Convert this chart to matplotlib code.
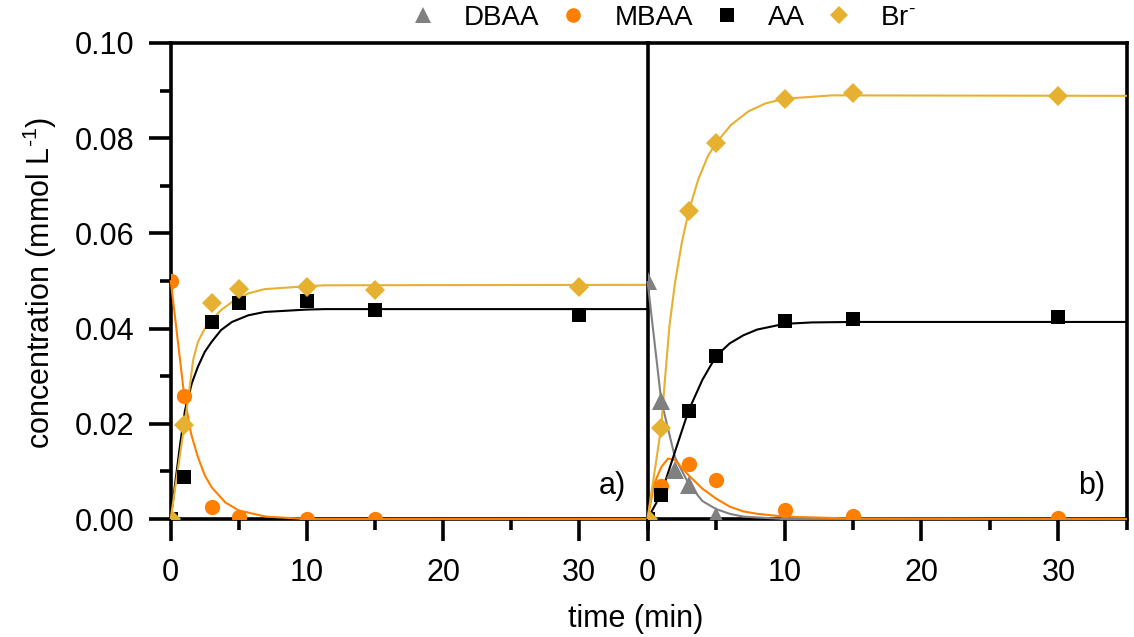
import matplotlib.pyplot as plt
from matplotlib.ticker import MultipleLocator, FixedLocator
from matplotlib.lines import Line2D

plt.rcParams['font.family'] = ['Liberation Sans', 'DejaVu Sans']
plt.rcParams['mathtext.default'] = 'regular'

GRAY = '#808080'
ORANGE = '#FF7F00'
GOLD = '#E6B030'
BLACK = '#000000'

# ---- a) MBAA experiment: measured points
t_a = [0, 1, 3, 5, 10, 15, 30]
mbaa_a_t = [0, 1, 3, 5, 10, 15]
mbaa_a = [0.0501, 0.0259, 0.0025, 0.0004, 0.0000, 0.0000]
aa_a = [0.0, 0.0089, 0.0413, 0.0453, 0.0459, 0.0439, 0.0428]
br_a = [0.0, 0.0198, 0.0454, 0.0483, 0.0488, 0.0481, 0.0487]

# a) fitted curves
fit_mbaa_a_t = [0, 0.5, 1, 1.5, 2, 2.5, 3, 4, 5, 7, 10, 35]
fit_mbaa_a = [0.0502, 0.038, 0.0258, 0.0179, 0.0130, 0.0092, 0.0067, 0.0035, 0.0018, 0.0005, 0.0, 0.0]
fit_aa_a_t = [0, 0.7, 1.05, 1.55, 2, 2.5, 3, 3.7, 4.5, 5.7, 6.9, 10, 11.3, 35]
fit_aa_a = [0.0, 0.0158, 0.0228, 0.0285, 0.0320, 0.0351, 0.0372, 0.0397, 0.0414, 0.0428, 0.0435, 0.0440, 0.0441, 0.0441]
fit_br_a_t = [0, 1, 1.3, 1.65, 2, 2.5, 3, 3.7, 4.5, 5.7, 6.9, 10, 11.3, 35]
fit_br_a = [0.0, 0.0197, 0.0256, 0.0334, 0.0372, 0.0400, 0.0418, 0.0439, 0.0456, 0.0474, 0.0483, 0.0489, 0.0491, 0.0492]

# ---- b) DBAA experiment: measured points
dbaa_b_t = [0, 1, 2, 3, 5, 10]
dbaa_b = [0.0500, 0.0248, 0.0103, 0.0072, 0.0006, 0.0000]
mbaa_b_t = [0, 1, 3, 5, 10, 15, 30]
mbaa_b = [0.0, 0.0070, 0.0116, 0.0082, 0.0018, 0.0007, 0.0002]
t_b = [0, 1, 3, 5, 10, 15, 30]
aa_b = [0.0, 0.0050, 0.0226, 0.0342, 0.0415, 0.0421, 0.0424]
br_b = [0.0, 0.0192, 0.0647, 0.0790, 0.0883, 0.0894, 0.0889]

# b) fitted curves
fit_dbaa_b_t = [0, 1, 2, 3, 4, 5, 6, 7, 10, 35]
fit_dbaa_b = [0.0500, 0.0249, 0.0130, 0.0074, 0.0038, 0.0021, 0.0011, 0.0005, 0.0, 0.0]
fit_mbaa_b_t = [0, 0.5, 1, 1.5, 2, 3, 4, 5, 6, 7, 8, 10, 15, 35]
fit_mbaa_b = [0.0, 0.0075, 0.0109, 0.0127, 0.0124, 0.0092, 0.0064, 0.0043, 0.0026, 0.0016, 0.0011, 0.0005, 0.0001, 0.0]
fit_aa_b_t = [0, 1, 2, 3, 4, 5, 6, 7, 8, 10, 12, 15, 35]
fit_aa_b = [0.0, 0.0053, 0.0141, 0.0228, 0.0292, 0.0342, 0.0369, 0.0386, 0.0398, 0.0410, 0.0413, 0.0414, 0.0414]
fit_br_b_t = [0, 1, 1.25, 1.6, 2, 2.5, 3, 3.7, 4.4, 5, 6.1, 7.35, 8.6, 10, 13.5, 35]
fit_br_b = [0.0, 0.0193, 0.0285, 0.0405, 0.0495, 0.0580, 0.0646, 0.0713, 0.0762, 0.0790, 0.0828, 0.0856, 0.0873, 0.0883, 0.0890, 0.0889]

fig = plt.figure(figsize=(11.34, 6.37), dpi=100)
ax1 = fig.add_axes([0.1505, 0.1852, 0.4205, 0.7473])
ax2 = fig.add_axes([0.5710, 0.1852, 0.4228, 0.7473])


def curve(ax, x, y, c):
    ax.plot(x, y, '-', color=c, lw=1.5, zorder=3, clip_on=False,
            solid_capstyle='butt')


def points(ax, x, y, c, m, ms):
    ax.plot(x, y, ls='none', marker=m, ms=ms, color=c, mew=0, zorder=4)


# panel a
curve(ax1, fit_mbaa_a_t, fit_mbaa_a, ORANGE)
curve(ax1, fit_aa_a_t, fit_aa_a, BLACK)
curve(ax1, fit_br_a_t, fit_br_a, GOLD)
points(ax1, mbaa_a_t, mbaa_a, ORANGE, 'o', 11)
points(ax1, t_a, aa_a, BLACK, 's', 10)
points(ax1, t_a, br_a, GOLD, 'D', 10)

# panel b
curve(ax2, fit_dbaa_b_t, fit_dbaa_b, GRAY)
curve(ax2, fit_mbaa_b_t, fit_mbaa_b, ORANGE)
curve(ax2, fit_aa_b_t, fit_aa_b, BLACK)
curve(ax2, fit_br_b_t, fit_br_b, GOLD)
points(ax2, dbaa_b_t, dbaa_b, GRAY, '^', 12.5)
points(ax2, mbaa_b_t, mbaa_b, ORANGE, 'o', 11)
points(ax2, t_b, aa_b, BLACK, 's', 10)
points(ax2, t_b, br_b, GOLD, 'D', 10)

for ax in (ax1, ax2):
    ax.set_xlim(0, 35)
    ax.set_ylim(0, 0.10)
    ax.xaxis.set_major_locator(FixedLocator([0, 10, 20, 30]))
    ax.xaxis.set_minor_locator(FixedLocator([5, 15, 25, 35]))
    ax.yaxis.set_major_locator(MultipleLocator(0.02))
    ax.yaxis.set_minor_locator(MultipleLocator(0.01))
    for s in ax.spines.values():
        s.set_linewidth(2.6)
    ax.tick_params(which='major', direction='out', length=16, width=2.6,
                   labelsize=22, pad=10)
    ax.tick_params(which='minor', direction='out', length=8, width=2.6)
    ax.tick_params(axis='x', which='major', pad=12)

ax1.yaxis.set_major_formatter(plt.FormatStrFormatter('%.2f'))
ax1.spines['right'].set_visible(False)
ax2.tick_params(axis='y', which='both', left=False, labelleft=False)

ax1.text(0.955, 0.07, 'a)', transform=ax1.transAxes, ha='right', va='center', fontsize=22)
ax2.text(0.955, 0.07, 'b)', transform=ax2.transAxes, ha='right', va='center', fontsize=22)

fig.text(636 / 1134, 1 - 619 / 637, 'time (min)', ha='center', va='center', fontsize=22)
fig.text(40 / 1134, 1 - 283 / 637, 'concentration (mmol L$^{\u20101}$)',
         rotation=90, ha='center', va='center', fontsize=22)

handles = [
    Line2D([], [], ls='none', marker='^', ms=11.5, color=GRAY, mew=0),
    Line2D([], [], ls='none', marker='o', ms=10.5, color=ORANGE, mew=0),
    Line2D([], [], ls='none', marker='s', ms=9.5, color=BLACK, mew=0),
    Line2D([], [], ls='none', marker='D', ms=9.5, color=GOLD, mew=0),
]
fig.legend(handles, ['DBAA', 'MBAA', 'AA', 'Br$^{\u2010}$'], loc='center',
           bbox_to_anchor=(0.584, 0.972), ncol=4, frameon=False, fontsize=20,
           handlelength=1.0, handletextpad=1.0, columnspacing=0.7)

fig.savefig('out.png', dpi=100)
